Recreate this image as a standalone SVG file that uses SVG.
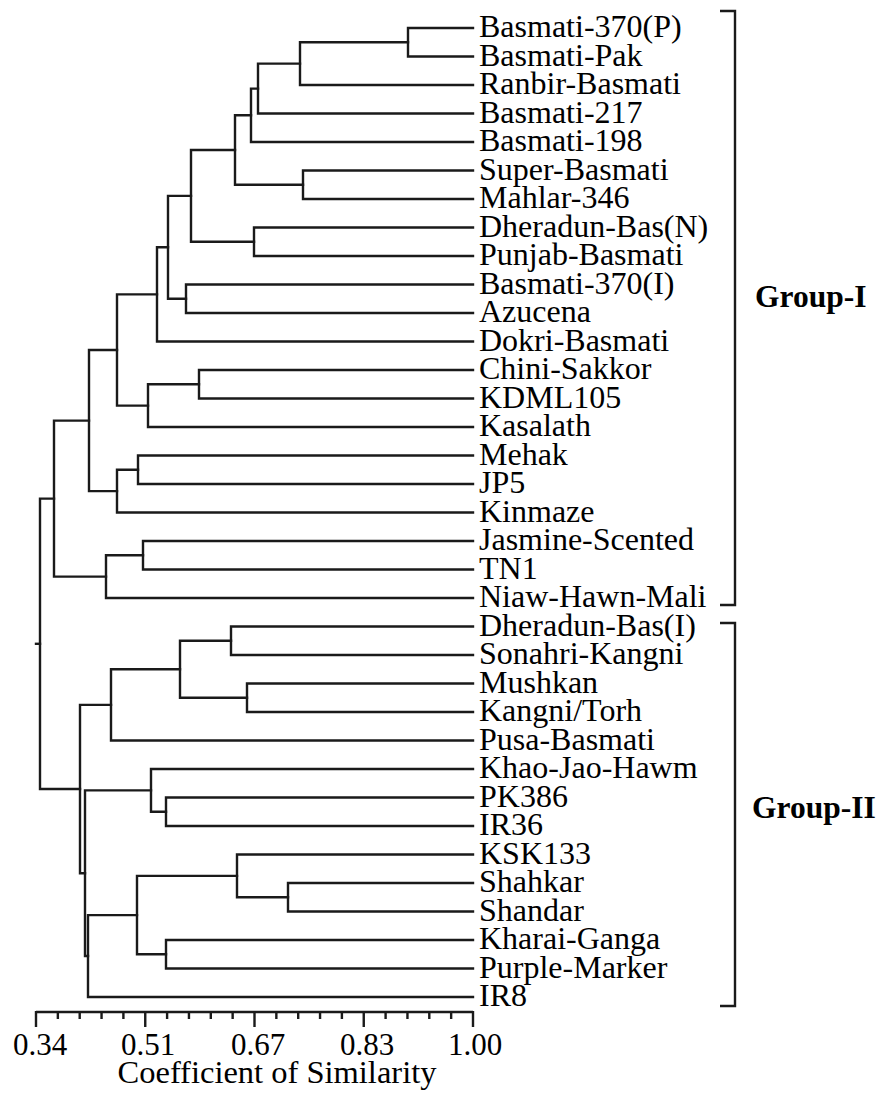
<svg xmlns="http://www.w3.org/2000/svg" width="878" height="1094" viewBox="0 0 878 1094">
<style>
.br{fill:none;stroke:#1a1a1a;stroke-width:2.4;stroke-linecap:square}
.lb{font-family:"Liberation Serif","Times New Roman",serif;font-size:32px;fill:#000}
.gp{font-family:"Liberation Serif","Times New Roman",serif;font-size:31.5px;font-weight:bold;fill:#000}
.tk{font-family:"Liberation Serif","Times New Roman",serif;font-size:31px;fill:#000;text-anchor:middle}
.tt{font-family:"Liberation Serif","Times New Roman",serif;font-size:32.5px;fill:#000;text-anchor:middle}
.ax{fill:none;stroke:#1a1a1a;stroke-width:2.4}
</style>
<rect width="878" height="1094" fill="#fff"/>
<g id="connectors">
<path class="br" d="M473 28 H408 V56.5 H473"/>
<path class="br" d="M408 42.25 H300 V85 H473"/>
<path class="br" d="M300 63.6 H258 V113.5 H473"/>
<path class="br" d="M258 88.6 H251 V142 H473"/>
<path class="br" d="M473 170.5 H303 V199 H473"/>
<path class="br" d="M251 115.3 H235 V184.75 H303"/>
<path class="br" d="M473 227.5 H254 V256 H473"/>
<path class="br" d="M235 150 H191 V241.75 H254"/>
<path class="br" d="M473 284.5 H186 V313 H473"/>
<path class="br" d="M191 195.9 H168 V298.75 H186"/>
<path class="br" d="M168 247.3 H157 V341.5 H473"/>
<path class="br" d="M473 370 H199 V398.5 H473"/>
<path class="br" d="M199 384.25 H148 V427 H473"/>
<path class="br" d="M157 294.4 H117 V405.6 H148"/>
<path class="br" d="M473 455.5 H138 V484 H473"/>
<path class="br" d="M138 469.75 H117 V512.5 H473"/>
<path class="br" d="M117 350 H89 V491.1 H117"/>
<path class="br" d="M473 541 H143 V569.5 H473"/>
<path class="br" d="M143 555.25 H106 V598 H473"/>
<path class="br" d="M89 420.6 H54 V576.6 H106"/>
<path class="br" d="M473 626.5 H231 V655 H473"/>
<path class="br" d="M473 683.5 H247 V712 H473"/>
<path class="br" d="M231 640.75 H180 V697.75 H247"/>
<path class="br" d="M180 669.25 H111 V740.5 H473"/>
<path class="br" d="M473 797.5 H166 V826 H473"/>
<path class="br" d="M473 769 H151 V811.75 H166"/>
<path class="br" d="M473 883 H288 V911.5 H473"/>
<path class="br" d="M473 854.5 H237 V897.25 H288"/>
<path class="br" d="M473 940 H166 V968.5 H473"/>
<path class="br" d="M237 875.9 H137 V954.25 H166"/>
<path class="br" d="M137 915.1 H88 V997 H473"/>
<path class="br" d="M151 790.4 H85 V956 H88"/>
<path class="br" d="M111 704.9 H80 V873.2 H85"/>
<path class="br" d="M54 498.6 H40 V789 H80"/>
<path class="br" d="M40 643.8 H36"/>
</g>
<g id="leaves">
<g id="leaf-basmati-370p"><text class="lb" x="479" y="37">Basmati-370(P)</text></g>
<g id="leaf-basmati-pak"><text class="lb" x="479" y="65.5">Basmati-Pak</text></g>
<g id="leaf-ranbir-basmati"><text class="lb" x="479" y="94">Ranbir-Basmati</text></g>
<g id="leaf-basmati-217"><text class="lb" x="479" y="122.5">Basmati-217</text></g>
<g id="leaf-basmati-198"><text class="lb" x="479" y="151">Basmati-198</text></g>
<g id="leaf-super-basmati"><text class="lb" x="479" y="179.5">Super-Basmati</text></g>
<g id="leaf-mahlar-346"><text class="lb" x="479" y="208">Mahlar-346</text></g>
<g id="leaf-dheradun-bas-n"><text class="lb" x="479" y="236.5">Dheradun-Bas(N)</text></g>
<g id="leaf-punjab-basmati"><text class="lb" x="479" y="265">Punjab-Basmati</text></g>
<g id="leaf-basmati-370i"><text class="lb" x="479" y="293.5">Basmati-370(I)</text></g>
<g id="leaf-azucena"><text class="lb" x="479" y="322">Azucena</text></g>
<g id="leaf-dokri-basmati"><text class="lb" x="479" y="350.5">Dokri-Basmati</text></g>
<g id="leaf-chini-sakkor"><text class="lb" x="479" y="379">Chini-Sakkor</text></g>
<g id="leaf-kdml105"><text class="lb" x="479" y="407.5">KDML105</text></g>
<g id="leaf-kasalath"><text class="lb" x="479" y="436">Kasalath</text></g>
<g id="leaf-mehak"><text class="lb" x="479" y="464.5">Mehak</text></g>
<g id="leaf-jp5"><text class="lb" x="479" y="493">JP5</text></g>
<g id="leaf-kinmaze"><text class="lb" x="479" y="521.5">Kinmaze</text></g>
<g id="leaf-jasmine-scented"><text class="lb" x="479" y="550">Jasmine-Scented</text></g>
<g id="leaf-tn1"><text class="lb" x="479" y="578.5">TN1</text></g>
<g id="leaf-niaw-hawn-mali"><text class="lb" x="479" y="607">Niaw-Hawn-Mali</text></g>
<g id="leaf-dheradun-bas-i"><text class="lb" x="479" y="635.5">Dheradun-Bas(I)</text></g>
<g id="leaf-sonahri-kangni"><text class="lb" x="479" y="664">Sonahri-Kangni</text></g>
<g id="leaf-mushkan"><text class="lb" x="479" y="692.5">Mushkan</text></g>
<g id="leaf-kangni-torh"><text class="lb" x="479" y="721">Kangni/Torh</text></g>
<g id="leaf-pusa-basmati"><text class="lb" x="479" y="749.5">Pusa-Basmati</text></g>
<g id="leaf-khao-jao-hawm"><text class="lb" x="479" y="778">Khao-Jao-Hawm</text></g>
<g id="leaf-pk386"><text class="lb" x="479" y="806.5">PK386</text></g>
<g id="leaf-ir36"><text class="lb" x="479" y="835">IR36</text></g>
<g id="leaf-ksk133"><text class="lb" x="479" y="863.5">KSK133</text></g>
<g id="leaf-shahkar"><text class="lb" x="479" y="892">Shahkar</text></g>
<g id="leaf-shandar"><text class="lb" x="479" y="920.5">Shandar</text></g>
<g id="leaf-kharai-ganga"><text class="lb" x="479" y="949">Kharai-Ganga</text></g>
<g id="leaf-purple-marker"><text class="lb" x="479" y="977.5">Purple-Marker</text></g>
<g id="leaf-ir8"><text class="lb" x="479" y="1006">IR8</text></g>
</g>
<g id="group-1">
<path class="ax" d="M720 11 H735 V605 H720"/>
<text class="gp" x="755" y="307">Group-I</text>
</g>
<g id="group-2">
<path class="ax" d="M720 623 H735 V1006 H720"/>
<text class="gp" x="752" y="818">Group-II</text>
</g>
<g id="axis">
<path class="ax" d="M36 1012 H473"/>
<path class="ax" d="M36 1011 V1027 M145.25 1011 V1027 M254.5 1011 V1027 M363.75 1011 V1027 M473 1011 V1027"/>
<path class="ax" d="M57.85 1012 V1019 M79.7 1012 V1019 M101.55 1012 V1019 M123.4 1012 V1019 M167.1 1012 V1019 M188.95 1012 V1019 M210.8 1012 V1019 M232.65 1012 V1019 M276.35 1012 V1019 M298.2 1012 V1019 M320.05 1012 V1019 M341.9 1012 V1019 M385.6 1012 V1019 M407.45 1012 V1019 M429.3 1012 V1019 M451.15 1012 V1019"/>
<text class="tk" x="40" y="1055">0.34</text>
<text class="tk" x="148" y="1055">0.51</text>
<text class="tk" x="258" y="1055">0.67</text>
<text class="tk" x="367" y="1055">0.83</text>
<text class="tk" x="475" y="1055">1.00</text>
<text class="tt" x="277" y="1083">Coefficient of Similarity</text>
</g>
</svg>
